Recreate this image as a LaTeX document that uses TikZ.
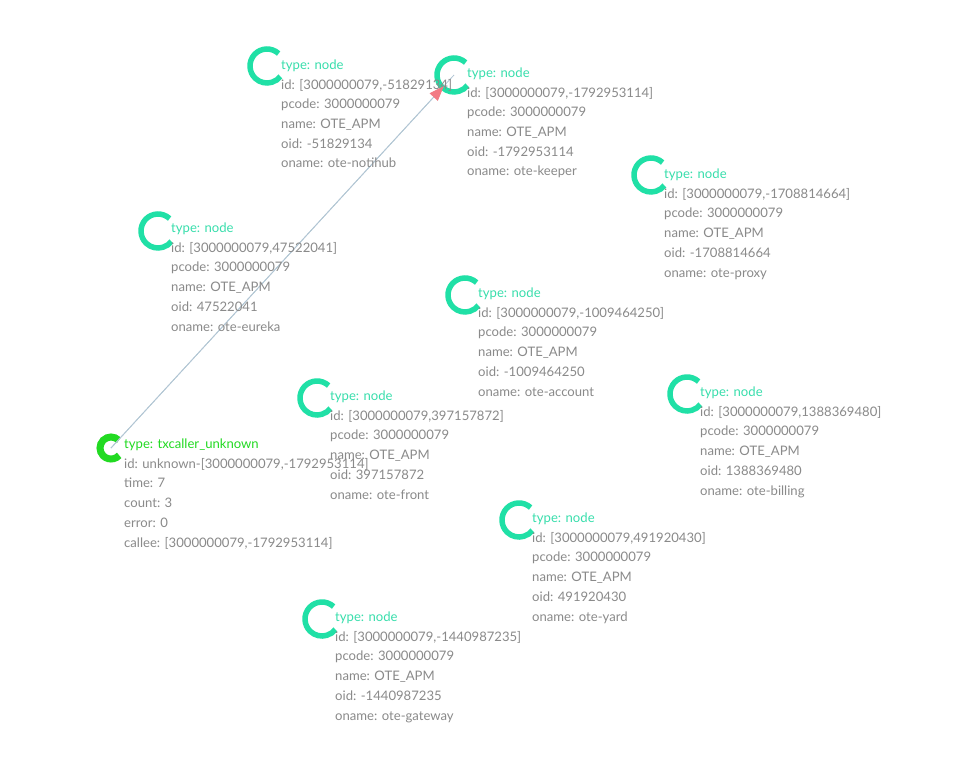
\documentclass[tikz,border=0pt]{standalone}
\usepackage{fontspec}
\setmainfont{Lato}
\usetikzlibrary{arrows.meta}
\definecolor{ringc}{RGB}{32,224,166}
\definecolor{typec}{RGB}{56,222,172}
\definecolor{greenc}{RGB}{34,218,34}
\definecolor{greyc}{RGB}{138,138,138}
\definecolor{edgec}{RGB}{178,198,212}
\definecolor{pinkc}{RGB}{242,122,132}
\tikzset{
  txt/.style={anchor=base west, inner sep=0pt, align=left, text=greyc,
    font=\fontsize{13.1}{19.7}\selectfont, yshift=-99.5pt},
  ring/.style={draw=ringc, line width=5.5pt},
  gring/.style={draw=greenc, line width=7pt},
  edge/.style={draw=edgec, line width=0.8pt},
}
\newcommand{\ty}[1]{\textcolor{typec}{#1}}
\begin{document}
\begin{tikzpicture}[x=1pt,y=-1pt]
\fill[white] (0,0) rectangle (969,778);
\useasboundingbox (0,0) rectangle (969,778);
% ring centres
\coordinate (c1) at (267,66);
\coordinate (c2) at (454,75);
\coordinate (c3) at (651,175);
\coordinate (c4) at (158,231);
\coordinate (c5) at (465,295);
\coordinate (c6) at (317,398);
\coordinate (c7) at (687,394);
\coordinate (c8) at (111,448);
\coordinate (c9) at (519,520);
\coordinate (c10) at (322,619);
% rings
\foreach \c in {c1,c2,c3,c4,c5,c6,c7,c9,c10}{
  \draw[ring] ([shift={(-47:17)}]\c) arc[start angle=-47, end angle=-322, radius=17];
}
\draw[gring] ([shift={(-45:11)}]c8) arc[start angle=-45, end angle=-318, radius=11];
% edge
\draw[edge] (c8) -- (c2);
\draw[edge, -{Triangle[length=15pt,width=11pt,color=pinkc]}, shorten >=15pt] (c8) -- (c2);
% texts
\node[txt] (t1) at (281,68.5) {\ty{type: node}\\id: [3000000079,-51829134]\\pcode: 3000000079\\name: OTE\_APM\\oid: -51829134\\oname: ote-notihub};
\node[txt] (t2) at (467,76.5) {\ty{type: node}\\id: [3000000079,-1792953114]\\pcode: 3000000079\\name: OTE\_APM\\oid: -1792953114\\oname: ote-keeper};
\node[txt] (t3) at (664,177.5) {\ty{type: node}\\id: [3000000079,-1708814664]\\pcode: 3000000079\\name: OTE\_APM\\oid: -1708814664\\oname: ote-proxy};
\node[txt] (t4) at (171,231.5) {\ty{type: node}\\id: [3000000079,47522041]\\pcode: 3000000079\\name: OTE\_APM\\oid: 47522041\\oname: ote-eureka};
\node[txt] (t5) at (478,296.5) {\ty{type: node}\\id: [3000000079,-1009464250]\\pcode: 3000000079\\name: OTE\_APM\\oid: -1009464250\\oname: ote-account};
\node[txt] (t6) at (330,399.5) {\ty{type: node}\\id: [3000000079,397157872]\\pcode: 3000000079\\name: OTE\_APM\\oid: 397157872\\oname: ote-front};
\node[txt] (t7) at (700,395.5) {\ty{type: node}\\id: [3000000079,1388369480]\\pcode: 3000000079\\name: OTE\_APM\\oid: 1388369480\\oname: ote-billing};
\node[txt] (t8) at (124,447.5) {\textcolor{greenc}{type: txcaller\_unknown}\\id: unknown-[3000000079,-1792953114]\\time: 7\\count: 3\\error: 0\\callee: [3000000079,-1792953114]};
\node[txt] (t9) at (532,521.5) {\ty{type: node}\\id: [3000000079,491920430]\\pcode: 3000000079\\name: OTE\_APM\\oid: 491920430\\oname: ote-yard};
\node[txt] (t10) at (335,620.5) {\ty{type: node}\\id: [3000000079,-1440987235]\\pcode: 3000000079\\name: OTE\_APM\\oid: -1440987235\\oname: ote-gateway};
\end{tikzpicture}
\end{document}
